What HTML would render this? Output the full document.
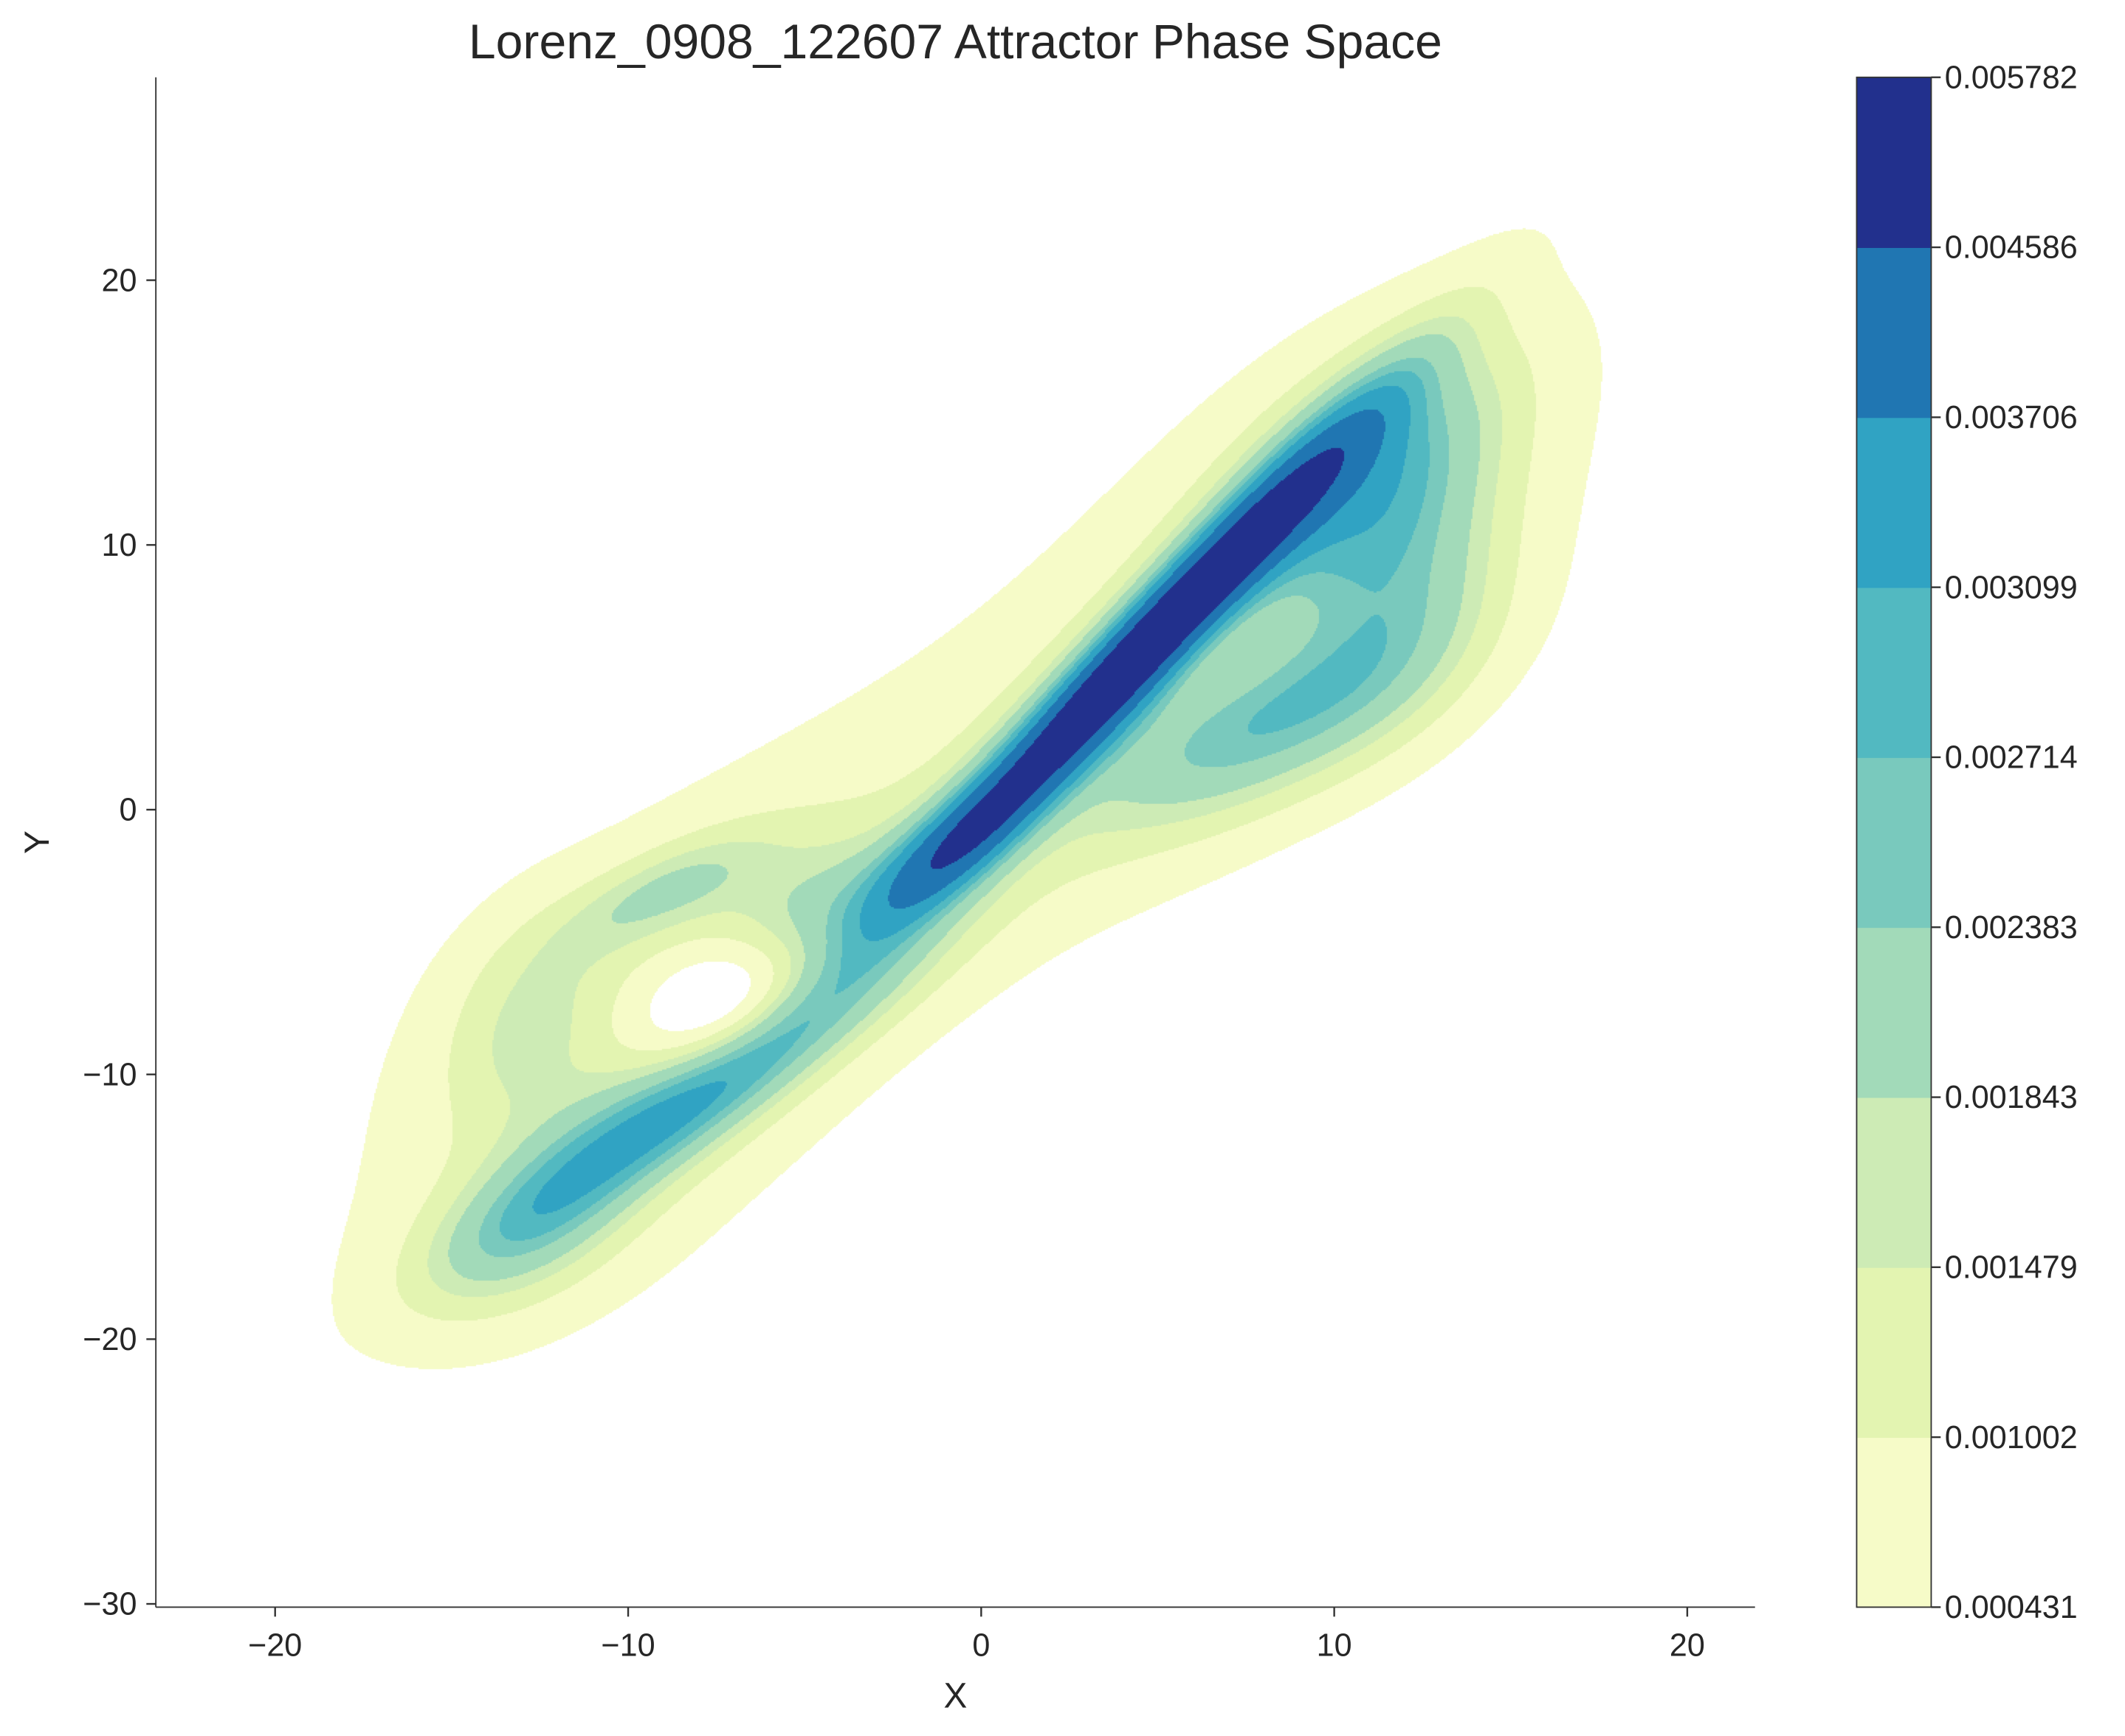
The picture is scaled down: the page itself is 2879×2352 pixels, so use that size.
<!DOCTYPE html>
<html><head><meta charset="utf-8">
<style>
html,body{margin:0;padding:0;background:#fff;width:2879px;height:2352px;overflow:hidden}
#kde{position:absolute;left:0;top:0}
#ov{position:absolute;left:0;top:0}
text{font-family:"Liberation Sans",sans-serif;fill:#262626}
</style></head>
<body>
<canvas id="kde" width="2879" height="2352"></canvas>
<svg id="ov" width="2879" height="2352" viewBox="0 0 1568 1280" preserveAspectRatio="none"></svg>
<script>
// data
const levels=[0.000431,0.001002,0.001479,0.001843,0.002383,0.002714,0.003099,0.003706,0.004586,0.005782];
const levelLabels=["0.000431","0.001002","0.001479","0.001843","0.002383","0.002714","0.003099","0.003706","0.004586","0.005782"];
const colors=["#f6fbc8","#e3f4b1","#cdebb5","#a2dab9","#79c9bd","#52b9c1","#30a3c3","#2076b2","#22308d"];
const xTicks=[-20,-10,0,10,20];
const yTicks=[20,10,0,-10,-20,-30];
// density components: [cx, cy, sMajor, sMinor, angleDeg, amplitude]
const compCx=[4.5,-1,-7,-13,-9,-13,-5,-10,-10.5,11,8,12,9,0,7.5,-7.5];
const compCy=[6,-1.5,-10,-16,-3,-8,-4,-12,-10.5,13,3,8,10,0,6,-7];
const compSa=[7.5,2.5,5.5,2.8,2.5,3,2.5,3,8.5,4,4,3.5,8,9,2.5,2];
const compSb=[0.9,1.0,1.1,1.6,1.0,1.6,1.5,1.5,4.5,2,1.8,2,4,4,1.1,1.3];
const compAng=[55,48,42,45,35,75,45,40,58,55,35,70,55,40,35,45];
const compAmp=[0.0046,0.0015,0.0018,0.0015,0.0012,0.0009,0.0010,0.0008,0.0008,0.0019,0.0017,0.0013,0.0009,0.0007,-0.0003,-0.0016];

// axes (display units in viewBox)
const L=115,R=1295,T=57,B=1185;
const sx=x=>724+26.05*x, sy=y=>597-19.52*y;
const ixd=px=>(px-724)/26.05, iyd=py=>(597-py)/19.52;
const K=2879/1568, KY=2352/1280;

function dens(x,y){let s=0;for(let i=0;i<compCx.length;i++){const a=compAng[i]*Math.PI/180,c=Math.cos(a),si=Math.sin(a);const dx=x-compCx[i],dy=y-compCy[i];const u=dx*c+dy*si,v=-dx*si+dy*c;s+=compAmp[i]*Math.exp(-0.5*(u*u/(compSa[i]*compSa[i])+v*v/(compSb[i]*compSb[i])));}return s;}
function rgb(h){return [parseInt(h.substr(1,2),16),parseInt(h.substr(3,2),16),parseInt(h.substr(5,2),16)];}
const cv=document.getElementById('kde'),ctx=cv.getContext('2d');
const x0=Math.round(L*K),x1=Math.round(R*K),y0=Math.round(T*KY),y1=Math.round(B*KY);
const img=ctx.createImageData(x1-x0,y1-y0),d=img.data,cr=colors.map(rgb);
const step=2;
for(let py=0;py<y1-y0;py+=step){for(let px=0;px<x1-x0;px+=step){
 const v=dens(ixd((px+x0)/K),iyd((py+y0)/KY));let k=-1;
 for(let j=0;j<9;j++){if(v>=levels[j])k=j;}
 const c=k<0?[255,255,255]:cr[k];
 for(let a=0;a<step;a++)for(let b=0;b<step;b++){const q=((py+a)*(x1-x0)+px+b)*4;if(px+b<x1-x0&&q<d.length){d[q]=c[0];d[q+1]=c[1];d[q+2]=c[2];d[q+3]=255;}}
}}
ctx.putImageData(img,x0,y0);

const NS="http://www.w3.org/2000/svg",svg=document.getElementById('ov');
function el(t,a,p){const e=document.createElementNS(NS,t);for(const k in a)e.setAttribute(k,a[k]);(p||svg).appendChild(e);return e;}
let e;
e=el('line',{x1:L,y1:T,x2:L,y2:B,stroke:'#333','stroke-width':1});


e=el('line',{x1:L,y1:B,x2:R,y2:B,stroke:'#333','stroke-width':1});


xTicks.forEach(t=>{
 e=el('line',{x1:sx(t),x2:sx(t),y1:B,y2:B+7,stroke:'#333','stroke-width':1.3});
 
 
 e=el('text',{x:sx(t),y:B+36,'text-anchor':'middle','font-size':23.5});e.textContent=(t<0?'\u2212'+(-t):t);
 
 
});
yTicks.forEach(t=>{
 e=el('line',{x1:L-7,x2:L,y1:sy(t),y2:sy(t),stroke:'#333','stroke-width':1.3});
 
 
 e=el('text',{x:L-14,y:sy(t)+8,'text-anchor':'end','font-size':23.5});e.textContent=(t<0?'\u2212'+(-t):t);
 
 
});
e=el('text',{x:705,y:1259,'text-anchor':'middle','font-size':26});e.textContent='X';


e=el('text',{x:36,y:621,'text-anchor':'middle','font-size':26,transform:'rotate(-90 36 621)'});e.textContent='Y';


e=el('text',{x:705,y:43,'text-anchor':'middle','font-size':36});e.textContent='Lorenz_0908_122607 Attractor Phase Space';


// colorbar
const CL=1370,CR=1425,CT=57,CB=1185,bh=(CB-CT)/9;
colors.forEach((c,i)=>{
 e=el('rect',{x:CL,y:CB-(i+1)*bh,width:CR-CL,height:bh+0.5,fill:c});
 
 
});
e=el('rect',{x:CL,y:CT,width:CR-CL,height:CB-CT,fill:'none',stroke:'#333','stroke-width':1});


levelLabels.forEach((t,i)=>{
 const y=CB-i*bh;
 e=el('line',{x1:CR,x2:CR+7,y1:y,y2:y,stroke:'#333','stroke-width':1.3});
 
 
 e=el('text',{x:CR+10,y:y+8,'font-size':23.5});e.textContent=t;
 
 
});
</script>
</body></html>
